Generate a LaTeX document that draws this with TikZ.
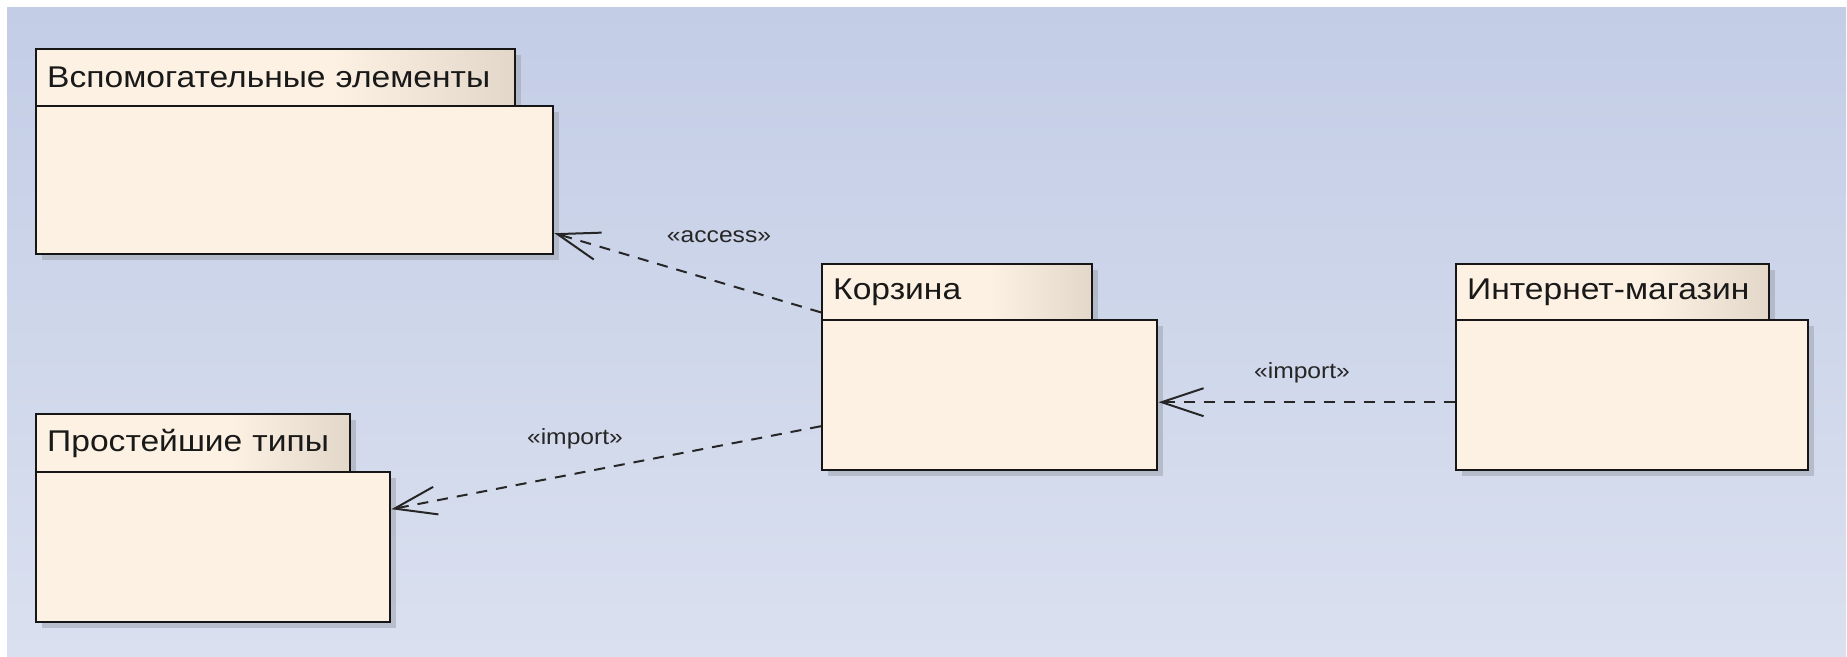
\documentclass[tikz,border=0pt]{standalone}
\usepackage{fontspec}
\setmainfont{Liberation Sans}
\newfontfamily\pkgfont[FakeStretch=1.12]{Liberation Sans}
\usetikzlibrary{arrows.meta,shadows}

\definecolor{bgtop}{HTML}{C3CDE6}
\definecolor{bgbot}{HTML}{DAE0EF}
\definecolor{pkgfill}{HTML}{FCF1E2}
\definecolor{tabdark}{HTML}{E2D7C8}
\definecolor{edge}{HTML}{161616}
\definecolor{shadowgray}{HTML}{9EA3AE}

% tab of a package: cream on the left, fading to beige on the right
\pgfdeclarehorizontalshading{tabshade}{100bp}{color(0bp)=(pkgfill); color(25bp)=(pkgfill); color(56bp)=(pkgfill); color(75bp)=(tabdark); color(100bp)=(tabdark)}

\tikzset{
  pkgshadow/.style={drop shadow={shadow xshift=6pt, shadow yshift=-6pt, fill=shadowgray, opacity=.55}},
  pkgtab/.style={draw=edge, line width=2.4pt, shading=tabshade, pkgshadow,
    anchor=north west, inner sep=0pt, inner xsep=11pt, align=left,
    font=\pkgfont\fontsize{30}{34}\selectfont, text=black!90},
  pkgbody/.style={draw=edge, line width=2.4pt, fill=pkgfill, pkgshadow,
    anchor=north west, inner sep=0pt},
  dependency/.style={draw=black!85, line width=2pt, dash pattern=on 11pt off 9pt,
    -{Straight Barb[length=42pt, width=28pt, line width=2pt]}},
  stereotype/.style={font=\pkgfont\fontsize{22}{26}\selectfont, text=black!85, inner sep=0pt}
}

\begin{document}
\begin{tikzpicture}[x=1pt, y=-1pt]
  % canvas
  \fill[white] (0,0) rectangle (1847,656);
  \useasboundingbox (0,0) rectangle (1847,656);
  \shade[top color=bgtop, bottom color=bgbot] (7,7) rectangle (1846,656);

  % package "Вспомогательные элементы"
  \node[pkgtab, minimum width=479pt, minimum height=57pt, text width=457pt] (auxtab) at (35,48) {Вспомогательные элементы};
  \node[pkgbody, minimum width=517pt, minimum height=148pt] (aux) at (35,105) {};

  % package "Простейшие типы"
  \node[pkgtab, minimum width=314pt, minimum height=58pt, text width=292pt] (primtab) at (35,413) {Простейшие типы};
  \node[pkgbody, minimum width=354pt, minimum height=150pt] (prim) at (35,471) {};

  % package "Корзина"
  \node[pkgtab, minimum width=270pt, minimum height=56pt, text width=248pt] (carttab) at (821,263) {Корзина};
  \node[pkgbody, minimum width=335pt, minimum height=150pt] (cart) at (821,319) {};

  % package "Интернет-магазин"
  \node[pkgtab, minimum width=313pt, minimum height=56pt, text width=291pt] (shoptab) at (1455,263) {Интернет-магазин};
  \node[pkgbody, minimum width=352pt, minimum height=150pt] (shop) at (1455,319) {};

  % connector end points on the package outlines
  \coordinate (accessfrom) at ([yshift=9pt]carttab.south west);
  \coordinate (accessto) at ([yshift=-53pt]aux.east);
  \coordinate (importfrom) at ([yshift=-31pt]cart.west);
  \coordinate (importto) at ([yshift=38pt]prim.east);
  \coordinate (shopfrom) at ([yshift=-7pt]shop.west);
  \coordinate (shopto) at ([yshift=-7pt]cart.east);

  % dependencies
  \draw[dependency] (accessfrom) -- (accessto);
  \draw[dependency] (importfrom) -- (importto);
  \draw[dependency] (shopfrom) -- (shopto);

  % stereotypes
  \node[stereotype] (accesslbl) at (719,237) {«access»};
  \node[stereotype] (importlbl) at (575,439) {«import»};
  \node[stereotype] (shoplbl) at (1302,373) {«import»};
\end{tikzpicture}
\end{document}
